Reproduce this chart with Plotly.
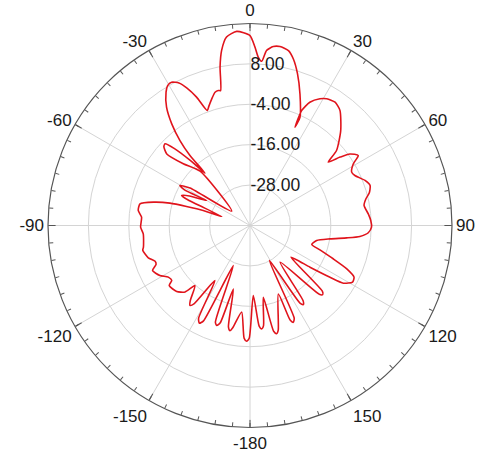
import plotly.graph_objects as go

# Radiation pattern traced around the curve: compass angle (deg) and gain (dB)
angle_deg = [
    0, -3.9, -7.1, -9.2, -10.7, -12.3, -13.2, -14.7, -16.8, -19, -20.4, -22.6, -24.7, -26.5,
    -28.7, -30.5, -32.2, -35.2, -37.6, -39.5, -40.6, -40.7,
    -42.5, -44.5, -46.1, -47.5, -49.3, -47.2, -42.6,
    -52.0, -58, -60.3, -61.5, -60, -64, -66.3, -67.5, -72.4,
    -72.2, -74.4, -76.4, -78.9, -82.3, -85.6, -90.9, -94.5, -101.5, -103, -107.6, -110.6,
    -112.5, -114.8, -119, -122.3, -125.1, -126.6, -132, -135.7, -137.5,
    -141.5, -143.1, -144.5, -147.5, -151, -152.6, -154, -157.4, -160.3, -161.6, -163, -165.3,
    -168, -169.2, -170.5, -174.5, -177, -178.3, -179.6,
    177.3, 174.8, 173.6, 172.3, 169.5, 167.4, 166.2, 164.9, 157.5, 157.0, 155.9, 154.5,
    151.1, 147.2, 146.0, 144.8, 140.7, 134.8, 133.5, 132.2, 127.7,
    124.8, 122.9, 121.7, 118.9, 116.4, 114.1, 111.8, 109.2, 107.1, 102.7, 99.5, 97.3, 95.7,
    93.5, 90.8, 87.6, 84.4, 80, 77.1, 74.8, 71.6, 68.6, 64.5, 62.3, 59.2, 57.1, 54.4, 52.8,
    51, 49.1, 43.7, 38.0, 34.6, 31.2, 28.9, 25.9, 24.2, 24.6, 24.8, 20.8, 17.4, 14.6, 12.4,
    9.5, 7.4, 5.4, 4.1, 2.8, 1.6, 0,
]
gain_db = [
    16.4, 17.8, 16.4, 12.7, 7.9, 1.0, 1.2, 0.9, -0.7, -2.5, -3.6, 1.3, 5.0, 7.3,
    8.5, 8.2, 6.8, 3.0, -1.9, -7.3, -12.6, -19.5,
    -14, -8, -5.0, -5.3, -7.4, -13, -18.1,
    -33.1, -19, -16.0, -18, -25.1, -20, -17.8, -20, -31.2,
    -25.4, -15.3, -10.5, -6.7, -6.5, -7.7, -7.5, -8.2, -7.7, -7.3, -8.3, -9.9,
    -9.8, -8.1, -9.4, -11.3, -11.6, -10.1, -10.7, -12.4, -15.8,
    -11.5, -10.3, -11.5, -20.6, -8.5, -7.3, -8.5, -27.1, -9.5, -8.7, -9.8, -20.5,
    -9.2, -8.2, -9.3, -14.2, -6.5, -5.6, -6.5,
    -19.2, -10, -9.1, -10, -18.3, -7.8, -6.9, -7.8, -18.0, -9.5, -8.5, -9.5,
    -28.1, -12.6, -11.7, -12.6, -25.9, -11.0, -10.2, -11.0, -24.6,
    -18.3, -11.7, -7.4, -5.2, -5.5, -8.5, -13.4, -18.0, -20.8, -19.7, -15.9, -11.0, -7.2,
    -4.8, -3.9, -4.1, -4.7, -5.6, -4.7, -3.3, -2.4, -3.3, -5.5, -5.9, -4.3, -1.7, -3.5, -6.4,
    -10.1, -6.0, -1.0, 3.4, 4.5, 4.0, 3.0, 0.7, -2.6, -7.9, -4.6, 1.8, 7.2, 11.1, 13.2,
    13.9, 13.6, 12.2, 8.9, 10.1, 13.0, 16.4,
]

radial_ticks = [-28, -16, -4, 8]
radial_ticktext = ["-28.00", "-16.00", "-4.00", "8.00"]
angular_ticks = [0, 30, 60, 90, 120, 150, 180, 210, 240, 270, 300, 330]
angular_ticktext = ["0", "30", "60", "90", "120", "150", "-180", "-150", "-120", "-90", "-60", "-30"]

font_family = "Liberation Sans, Arial, sans-serif"
dom = dict(x=[48 / 481, 452 / 481], y=[23 / 451, 428 / 451])

fig = go.Figure()
fig.add_trace(go.Scatterpolar(
    r=gain_db, theta=angle_deg, mode="lines",
    line=dict(color="#e0141c", width=1.6, shape="spline", smoothing=0.6),
    subplot="polar", hoverinfo="skip",
))
fig.add_trace(go.Scatterpolar(r=[None], theta=[None], mode="lines", subplot="polar2", hoverinfo="skip"))

fig.update_layout(
    width=481, height=451, margin=dict(l=0, r=0, t=0, b=0),
    showlegend=False, paper_bgcolor="white",
    polar=dict(
        domain=dom, bgcolor="white",
        radialaxis=dict(
            range=[-40, 20], tickvals=radial_ticks, ticktext=radial_ticktext,
            angle=90, tickangle=90, showline=False, ticks="",
            gridcolor="#d4d4d4", gridwidth=1,
            tickfont=dict(family=font_family, size=17.5, color="#1a1a1a"),
        ),
        angularaxis=dict(
            rotation=90, direction="clockwise",
            tickvals=angular_ticks, ticktext=angular_ticktext,
            ticks="inside", ticklen=7, tickcolor="#555", tickwidth=1,
            linecolor="#555", linewidth=1.2,
            gridcolor="#d4d4d4", gridwidth=1,
            tickfont=dict(family=font_family, size=17, color="#1a1a1a"),
        ),
    ),
    polar2=dict(
        domain=dom, bgcolor="rgba(0,0,0,0)",
        radialaxis=dict(visible=False, range=[-40, 20]),
        angularaxis=dict(
            rotation=90, direction="clockwise", tickmode="linear", tick0=0, dtick=5,
            ticks="inside", ticklen=4, tickcolor="#555", showgrid=False,
            showticklabels=False, showline=False,
        ),
    ),
)

fig.write_html("out.html")
